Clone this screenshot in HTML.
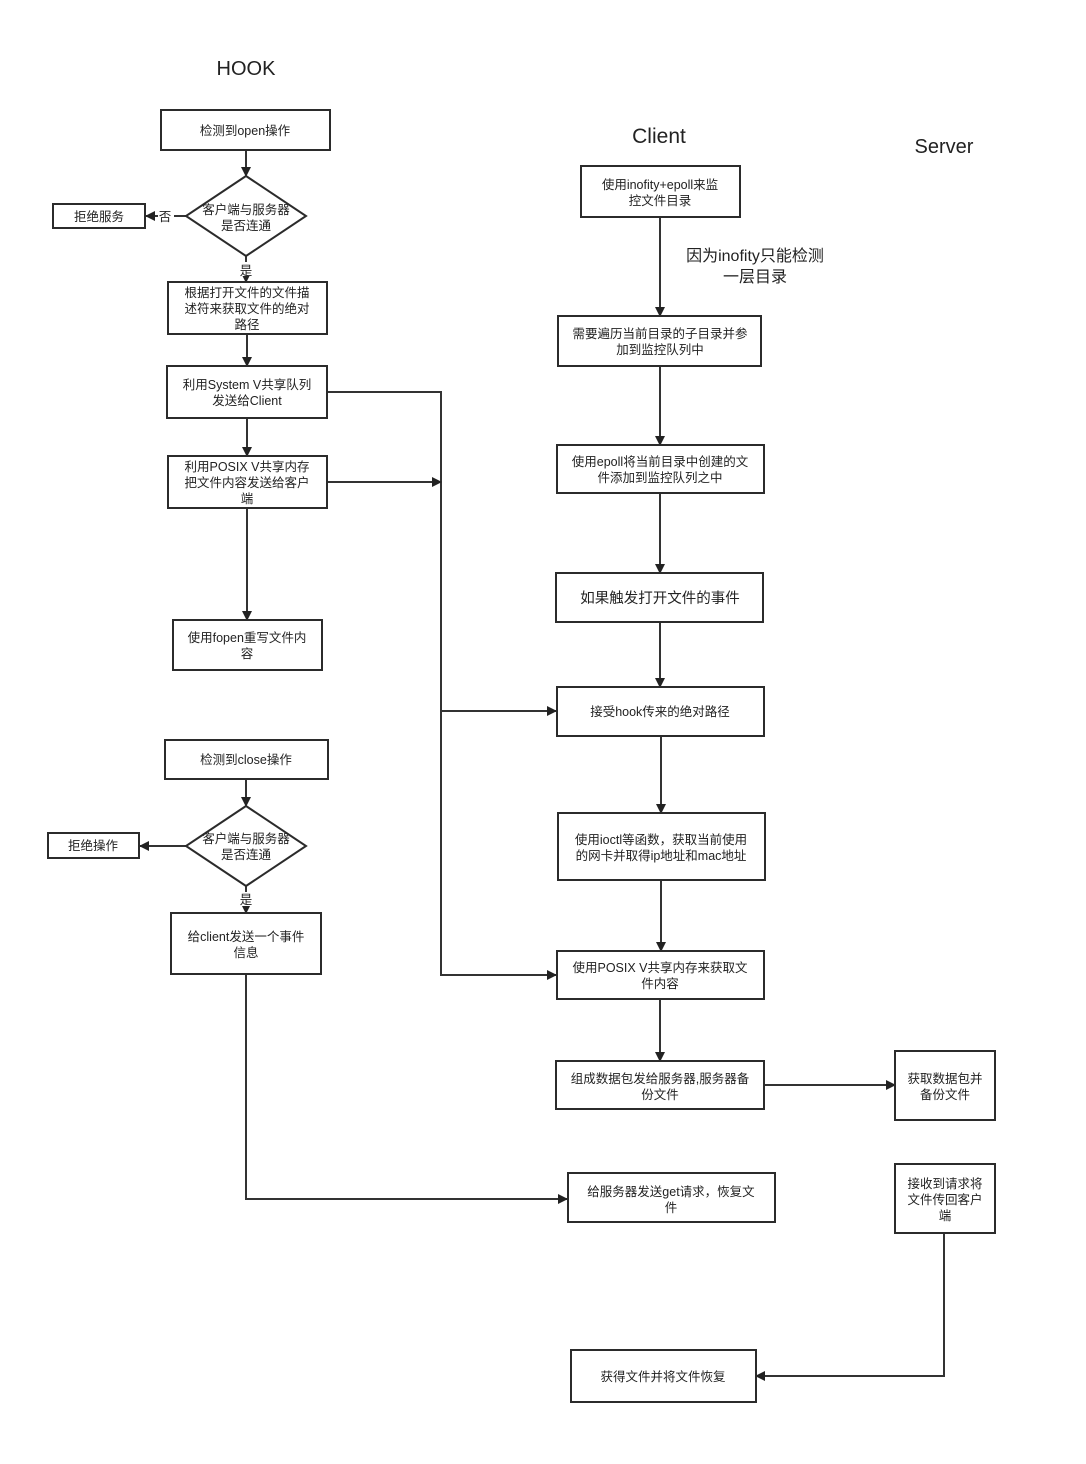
<!DOCTYPE html>
<html><head><meta charset="utf-8"><style>
html,body{margin:0;padding:0;background:#fff}
svg{display:block}
text{font-family:"Liberation Sans","Noto Sans CJK SC",sans-serif;fill:#222}
.b{fill:#fff;stroke:#2b2b2b;stroke-width:2}
.l{fill:none;stroke:#333;stroke-width:2}
.t{font-size:12.5px}
</style></head><body>
<svg width="1086" height="1464" viewBox="0 0 1086 1464">
<defs><marker id="a" markerWidth="10" markerHeight="10" refX="9" refY="5" orient="auto" markerUnits="userSpaceOnUse"><path d="M0,0 L10,5 L0,10 z" fill="#222"/></marker></defs>
<g text-anchor="middle">
<text x="246" y="75" font-size="20">HOOK</text>
<text x="659" y="143" font-size="21">Client</text>
<text x="944" y="153" font-size="20">Server</text>
<text x="755" y="261" font-size="16">因为inofity只能检测</text>
<text x="755" y="282" font-size="16">一层目录</text>
</g>
<!-- connectors -->
<g class="l" marker-end="url(#a)">
<path d="M246,150 V176"/>
<path d="M186,216 H146"/>
<path d="M246,256 V282"/>
<path d="M247,334 V366"/>
<path d="M247,418 V456"/>
<path d="M247,508 V620"/>
<path d="M246,779 V806"/>
<path d="M186,846 H140"/>
<path d="M246,886 V913"/>
<path d="M246,974 V1199 H567"/>
<path d="M327,392 H441 V975 H556"/>
<path d="M441,711 H556"/>
<path d="M327,482 H441"/>
<path d="M660,217 V316"/>
<path d="M660,366 V445"/>
<path d="M660,493 V573"/>
<path d="M660,622 V687"/>
<path d="M661,736 V813"/>
<path d="M661,880 V951"/>
<path d="M660,999 V1061"/>
<path d="M764,1085 H895"/>
<path d="M944,1233 V1376 H756"/>
</g>
<rect x="158" y="209" width="16" height="14" fill="#fff"/>
<rect x="238" y="262" width="16" height="14" fill="#fff"/>
<rect x="238" y="892" width="16" height="14" fill="#fff"/>
<!-- boxes -->
<g class="b">
<rect x="161" y="110" width="169" height="40"/>
<polygon points="246,176 306,216 246,256 186,216"/>
<rect x="53" y="204" width="92" height="24"/>
<rect x="168" y="282" width="159" height="52"/>
<rect x="167" y="366" width="160" height="52"/>
<rect x="168" y="456" width="159" height="52"/>
<rect x="173" y="620" width="149" height="50"/>
<rect x="165" y="740" width="163" height="39"/>
<polygon points="246,806 306,846 246,886 186,846"/>
<rect x="48" y="833" width="91" height="25"/>
<rect x="171" y="913" width="150" height="61"/>
<rect x="581" y="166" width="159" height="51"/>
<rect x="558" y="316" width="203" height="50"/>
<rect x="557" y="445" width="207" height="48"/>
<rect x="556" y="573" width="207" height="49"/>
<rect x="557" y="687" width="207" height="49"/>
<rect x="558" y="813" width="207" height="67"/>
<rect x="557" y="951" width="207" height="48"/>
<rect x="556" y="1061" width="208" height="48"/>
<rect x="895" y="1051" width="100" height="69"/>
<rect x="568" y="1173" width="207" height="49"/>
<rect x="895" y="1164" width="100" height="69"/>
<rect x="571" y="1350" width="185" height="52"/>
</g>
<g class="t" text-anchor="middle">
<text x="245" y="135">检测到open操作</text>
<text x="246" y="214">客户端与服务器</text><text x="246" y="230">是否连通</text>
<text x="99" y="221">拒绝服务</text>
<text x="165" y="221">否</text>
<text x="246" y="275">是</text>
<text x="247" y="297">根据打开文件的文件描</text><text x="247" y="313">述符来获取文件的绝对</text><text x="247" y="329">路径</text>
<text x="247" y="389">利用System V共享队列</text><text x="247" y="405">发送给Client</text>
<text x="247" y="471">利用POSIX V共享内存</text><text x="247" y="487">把文件内容发送给客户</text><text x="247" y="503">端</text>
<text x="247" y="642">使用fopen重写文件内</text><text x="247" y="658">容</text>
<text x="246" y="764">检测到close操作</text>
<text x="246" y="843">客户端与服务器</text><text x="246" y="859">是否连通</text>
<text x="93" y="850">拒绝操作</text>
<text x="246" y="904">是</text>
<text x="246" y="941">给client发送一个事件</text><text x="246" y="957">信息</text>
<text x="660" y="189">使用inofity+epoll来监</text><text x="660" y="205">控文件目录</text>
<text x="660" y="338">需要遍历当前目录的子目录并参</text><text x="660" y="354">加到监控队列中</text>
<text x="660" y="466">使用epoll将当前目录中创建的文</text><text x="660" y="482">件添加到监控队列之中</text>
<text x="660" y="603" font-size="14.5">如果触发打开文件的事件</text>
<text x="660" y="716">接受hook传来的绝对路径</text>
<text x="661" y="844">使用ioctl等函数，获取当前使用</text><text x="661" y="860">的网卡并取得ip地址和mac地址</text>
<text x="660" y="972">使用POSIX V共享内存来获取文</text><text x="660" y="988">件内容</text>
<text x="660" y="1083">组成数据包发给服务器,服务器备</text><text x="660" y="1099">份文件</text>
<text x="945" y="1083">获取数据包并</text><text x="945" y="1099">备份文件</text>
<text x="671" y="1196">给服务器发送get请求，恢复文</text><text x="671" y="1212">件</text>
<text x="945" y="1188">接收到请求将</text><text x="945" y="1204">文件传回客户</text><text x="945" y="1220">端</text>
<text x="663" y="1381">获得文件并将文件恢复</text>
</g>
</svg>
</body></html>
